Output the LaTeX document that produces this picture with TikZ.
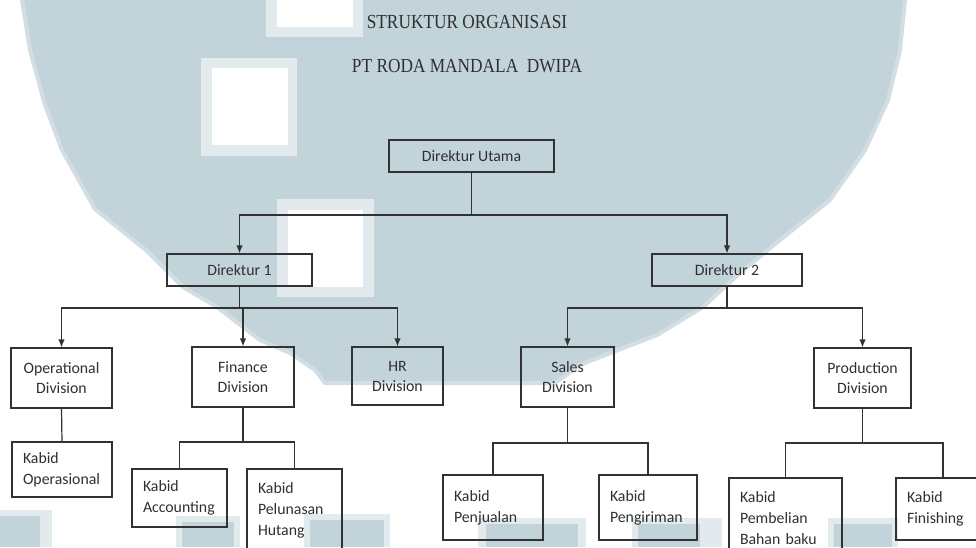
\documentclass[tikz,border=0pt]{standalone}
\usepackage{fontspec}
\setmainfont{Carlito}
\newfontfamily\titlefont{Liberation Serif}
\usetikzlibrary{arrows.meta}
\definecolor{wm}{RGB}{194,211,218}
\definecolor{wmedge}{RGB}{210,222,228}
\definecolor{wmlight}{RGB}{226,234,238}
\definecolor{ln}{RGB}{50,50,50}
\definecolor{tx}{RGB}{48,48,48}
\begin{document}
\begin{tikzpicture}[x=1pt,y=-1pt,
  box/.style={draw=ln, line width=1.2pt, text=tx, font=\fontsize{15.8}{20}\selectfont, inner sep=0pt, align=center},
  kbox/.style={draw=ln, line width=1.2pt, text=tx, font=\fontsize{15.8}{21}\selectfont, inner ysep=0pt, inner xsep=11pt, align=left},
  conn/.style={draw=ln, line width=1.2pt},
  arr/.style={conn, -{Latex[length=8pt,width=6.5pt]}},
  ttl/.style={text=tx, inner sep=0pt}]
\useasboundingbox (0,0) rectangle (976,547);
\clip (0,0) rectangle (976,547);
\fill[white] (0,0) rectangle (976,547);
% watermark
\path[draw=wmedge, line width=4pt, fill=wm] (20,-10) -- (905,-10) -- (905,0) -- (900,50) -- (888,100) -- (865,150) -- (830,200) -- (780,240) -- (740,273) -- (703,307) -- (657,335) -- (613,352) -- (580,365) -- (555,383) -- (325,383) -- (315,370) -- (290,353) -- (260,340) -- (217,307) -- (183,287) -- (173,277) -- (147,251) -- (95,209) -- (62,150) -- (45,105) -- (30,50) -- (22,0) -- cycle;
\fill[wmlight] (201,58) rectangle (297,156);
\fill[white] (212,68) rectangle (288,145);
\fill[wmlight] (277,199) rectangle (374,297);
\fill[white] (288,210) rectangle (363,287);
\fill[wmlight] (266,0) rectangle (363,37);
\fill[white] (277,0) rectangle (353,27);
% bottom blocks
\fill[wmlight] (0,510) rectangle (52,547);
\fill[wm] (0,516) rectangle (40,547);
\fill[wmlight] (176,516) rectangle (240,547);
\fill[wm] (182,522) rectangle (234,547);
\fill[wmlight] (304,514) rectangle (390,547);
\fill[wm] (310,520) rectangle (384,547);
\fill[wmlight] (478,518) rectangle (586,547);
\fill[wm] (486,524) rectangle (578,547);
\fill[wmlight] (632,518) rectangle (722,547);
\fill[wm] (638,524) rectangle (700,547);
\fill[wmlight] (828,518) rectangle (898,547);
\fill[wm] (834,524) rectangle (892,547);
% titles
\node[ttl] (t1) at (467,22) {\scalebox{1}[1.15]{\titlefont\fontsize{17.3}{20}\selectfont STRUKTUR ORGANISASI}};
\node[ttl] (t2) at (467,66) {\scalebox{1}[1.15]{\titlefont\fontsize{17.3}{20}\selectfont PT RODA MANDALA \ DWIPA}};
% boxes
\node[box, minimum width=165pt, minimum height=32pt] (du) at (471.5,156) {Direktur Utama};
\node[box, minimum width=145pt, minimum height=32pt] (d1) at (239.5,270) {Direktur 1};
\node[box, minimum width=150pt, minimum height=32pt] (d2) at (727,270) {Direktur 2};
\node[box, minimum width=101pt, minimum height=60pt] (op) at (61.5,378) {Operational\\Division};
\node[box, minimum width=102pt, minimum height=60pt] (fin) at (243,377) {Finance\\Division};
\node[box, minimum width=91pt, minimum height=58pt] (hr) at (397.5,376) {HR\\Division};
\node[box, minimum width=93pt, minimum height=60pt] (sales) at (567.5,377) {Sales\\Division};
\node[box, minimum width=97pt, minimum height=60pt] (prod) at (862.5,378) {Production\\Division};
\node[kbox, text width=78pt, minimum height=55pt] (kop) at (62,469.5) {Kabid\\Operasional};
\node[kbox, text width=73pt, minimum height=58pt] (kacc) at (179.5,498) {Kabid\\Accounting};
\node[kbox, text width=73pt, minimum height=82pt] (kpel) at (294.5,510) {Kabid\\Pelunasan\\Hutang};
\node[kbox, text width=78pt, minimum height=65pt] (kpen) at (493,507.5) {Kabid\\Penjualan};
\node[kbox, text width=76pt, minimum height=65pt] (kpeng) at (648,507.5) {Kabid\\Pengiriman};
\node[kbox, text width=91pt, minimum height=81pt] (kpem) at (785.5,518.5) {Kabid\\Pembelian\\Bahan baku};
\node[kbox, text width=72pt, minimum height=62pt] (kfin) at (943,509) {Kabid\\Finishing};
% bus coordinates
\coordinate (b0) at (0,215);
\coordinate (b1) at (0,308);
\coordinate (b2) at (0,442);
\coordinate (b3) at (0,443);
% connectors
\draw[arr] (du.south) -- (du.south |- b0) -| (d1.north);
\draw[arr] (du.south) -- (du.south |- b0) -| (d2.north);
\draw[arr] (d1.south) -- (d1.south |- b1) -| (op.north);
\draw[arr] (d1.south) -- (d1.south |- b1) -| (fin.north);
\draw[arr] (d1.south) -- (d1.south |- b1) -| (hr.north);
\draw[arr] (d2.south) -- (d2.south |- b1) -| (sales.north);
\draw[arr] (d2.south) -- (d2.south |- b1) -| (prod.north);
\draw[conn] (op.south) -- (kop.north);
\draw[conn] (fin.south) -- (fin.south |- b2) -| (kacc.north);
\draw[conn] (fin.south) -- (fin.south |- b2) -| (kpel.north);
\draw[conn] (sales.south) -- (sales.south |- b3) -| (kpen.north);
\draw[conn] (sales.south) -- (sales.south |- b3) -| (kpeng.north);
\draw[conn] (prod.south) -- (prod.south |- b3) -| (kpem.north);
\draw[conn] (prod.south) -- (prod.south |- b3) -| (kfin.north);
\end{tikzpicture}
\end{document}
